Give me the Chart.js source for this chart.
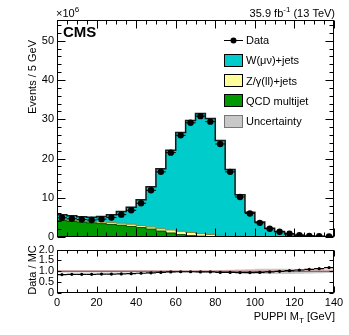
<!DOCTYPE html>
<html><head><meta charset="utf-8">
<script src="https://cdn.jsdelivr.net/npm/chart.js@4.4.1/dist/chart.umd.min.js"></script>
<style>
html,body{margin:0;padding:0;background:#fff;}
#wrap{position:relative;width:349px;height:335px;overflow:hidden;}
#c1{position:absolute;left:0;top:0;}
#c2{position:absolute;left:0;top:240px;}
</style></head><body>
<div id="wrap">
<canvas id="c1" width="349" height="250"></canvas>
<canvas id="c2" width="349" height="95"></canvas>
</div>
<script>
// ---- data (values in units of 10^6 events / 5 GeV) ----
const xMin = 0, xMax = 140, binWidth = 5;
const dataEv = [4.9, 4.65, 4.45, 4.35, 4.55, 4.95, 5.7, 6.8, 8.6, 11.9, 16.6, 21.5, 25.9, 29.1, 30.8, 29.4, 23.7, 16.6, 10.2, 6.0, 3.6, 2.1, 1.35, 0.82, 0.48, 0.27, 0.19, 0.14];
const wjets  = [1.3, 1.15, 1.05, 1.1, 1.45, 2.05, 3.0, 4.35, 6.6, 10.25, 15.3, 20.3, 25.15, 28.55, 30.65, 29.6, 24.2, 16.9, 10.6, 6.2, 3.75, 2.2, 1.4, 0.8, 0.45, 0.25, 0.17, 0.12];
const zjets  = [0.2, 0.25, 0.3, 0.35, 0.4, 0.45, 0.5, 0.55, 0.5, 0.55, 0.6, 0.8, 0.85, 0.8, 0.65, 0.5, 0.35, 0.25, 0.15, 0.08, 0.04, 0.02, 0.01, 0.01, 0, 0, 0, 0];
const qcd    = [4.2, 4.0, 3.8, 3.6, 3.4, 3.2, 3.0, 2.7, 2.4, 2.0, 1.5, 1.0, 0.6, 0.35, 0.2, 0.12, 0.07, 0.04, 0.02, 0.01, 0.01, 0, 0, 0, 0, 0, 0, 0];
const ratio  = [0.85, 0.86, 0.86, 0.86, 0.87, 0.87, 0.88, 0.89, 0.91, 0.93, 0.95, 0.97, 0.98, 0.98, 0.97, 0.97, 0.95, 0.95, 0.94, 0.94, 0.95, 0.97, 1.0, 1.03, 1.06, 1.09, 1.12, 1.17];
const ratioUnc = [0.06, 0.06, 0.06, 0.06, 0.06, 0.06, 0.06, 0.06, 0.06, 0.06, 0.05, 0.05, 0.05, 0.05, 0.05, 0.05, 0.06, 0.07, 0.08, 0.1, 0.12, 0.12, 0.12, 0.12, 0.11, 0.1, 0.09, 0.08];
const xTickVals = [0, 20, 40, 60, 80, 100, 120, 140];
const yTickValsMain = [0, 10, 20, 30, 40, 50];
const yTickValsRatio = [0, 0.5, 1, 1.5, 2];
const legendLabels = ['Data', 'W(\u03BC\u03BD)+jets', 'Z/\u03B3(ll)+jets', 'QCD multijet', 'Uncertainty'];

// ---- styling ----
const FONT = '"Liberation Sans", Arial, Helvetica, sans-serif';
const CYAN = 'rgb(0,204,204)', YELLOW = 'rgb(255,255,153)', GREEN = 'rgb(0,153,0)', GREY = 'rgb(200,200,200)';
Chart.defaults.font.family = FONT;
Chart.defaults.font.size = 11;
Chart.defaults.color = '#000';
Chart.defaults.animation = false;

const centers = dataEv.map((_, i) => xMin + binWidth * (i + 0.5));
const lowEdges = dataEv.map((_, i) => xMin + binWidth * i);
const pts = vals => vals.map((v, i) => ({x: centers[i], y: v}));
const stepPts = vals => { const p = vals.map((v, i) => ({x: lowEdges[i], y: v})); p.push({x: xMin + binWidth * vals.length, y: vals[vals.length - 1]}); return p; };
const total = wjets.map((w, i) => w + zjets[i] + qcd[i]);
const qz = qcd.map((q, i) => q + zjets[i]);

const frameTicks = {
  id: 'frameTicks',
  afterDatasetsDraw(chart, args, o) {
    const {ctx, chartArea: a, scales: {x, y}} = chart;
    ctx.save();
    ctx.strokeStyle = '#000'; ctx.lineWidth = 1;
    const L = Math.round(a.left) + 0.5, R = Math.round(a.right) - 0.5, T = Math.round(a.top) + 0.5, B = Math.round(a.bottom) - 0.5;
    ctx.beginPath();
    const isMaj = (v, m) => Math.abs(v / m - Math.round(v / m)) < 1e-6;
    for (let v = x.min; v <= x.max + 1e-9; v += o.xMinor) {
      const len = isMaj(v, o.xMajor) ? o.xMajLen : o.xMinLen;
      const p = Math.round(x.getPixelForValue(v)) + 0.5;
      ctx.moveTo(p, B); ctx.lineTo(p, B - len);
      ctx.moveTo(p, T); ctx.lineTo(p, T + len);
    }
    for (let v = y.min; v <= y.max + 1e-9; v += o.yMinor) {
      const len = isMaj(v, o.yMajor) ? o.yMajLen : o.yMinLen;
      const p = Math.round(y.getPixelForValue(v)) + 0.5;
      ctx.moveTo(L, p); ctx.lineTo(L + len, p);
      ctx.moveTo(R, p); ctx.lineTo(R - len, p);
    }
    ctx.stroke();
    ctx.strokeRect(L, T, R - L, B - T);
    ctx.restore();
  }
};

const mainText = {
  id: 'mainText',
  afterDraw(chart) {
    const ctx = chart.ctx;
    ctx.save();
    ctx.fillStyle = '#000';
    ctx.textBaseline = 'alphabetic';
    // x10^6
    ctx.font = '11px ' + FONT; ctx.textAlign = 'left';
    ctx.fillText('\u00D710', 56, 17);
    let w = ctx.measureText('\u00D710').width;
    ctx.font = '8px ' + FONT; ctx.fillText('6', 56 + w, 12);
    // CMS
    ctx.font = 'bold 15px ' + FONT; ctx.fillText('CMS', 63, 37);
    // lumi
    ctx.font = '11px ' + FONT;
    const s1 = '35.9 fb', s3 = ' (13 TeV)';
    const w1 = ctx.measureText(s1).width, w3 = ctx.measureText(s3).width;
    ctx.font = '8px ' + FONT; const w2 = ctx.measureText('-1').width;
    let x0 = 335 - w1 - w2 - w3;
    ctx.font = '11px ' + FONT; ctx.fillText(s1, x0, 16.5);
    ctx.font = '8px ' + FONT; ctx.fillText('-1', x0 + w1, 12);
    ctx.font = '11px ' + FONT; ctx.fillText(s3, x0 + w1 + w2, 16.5);
    // y title
    ctx.save();
    ctx.translate(36, 40); ctx.rotate(-Math.PI / 2);
    ctx.textAlign = 'right'; ctx.font = '11px ' + FONT;
    ctx.fillText('Events / 5 GeV', 0, 0);
    ctx.restore();
    // legend
    const lx0 = 224, bw = 19, bh = 13, tx = 246;
    const rowY = [40, 60, 80.5, 100.5, 121];
    const fills = [null, CYAN, YELLOW, GREEN, GREY];
    ctx.lineWidth = 1; ctx.strokeStyle = '#000';
    ctx.beginPath(); ctx.moveTo(lx0, rowY[0] + 0.5); ctx.lineTo(lx0 + bw, rowY[0] + 0.5); ctx.stroke();
    ctx.beginPath(); ctx.arc(lx0 + bw / 2, rowY[0] + 0.5, 3, 0, 2 * Math.PI); ctx.fill();
    for (let i = 1; i < 5; i++) {
      const top = Math.round(rowY[i] - bh / 2);
      ctx.fillStyle = fills[i]; ctx.fillRect(lx0, top, bw, bh);
      ctx.strokeStyle = i === 4 ? '#777' : '#000';
      ctx.strokeRect(lx0 + 0.5, top + 0.5, bw - 1, bh - 1);
    }
    ctx.fillStyle = '#000'; ctx.font = '11px ' + FONT; ctx.textAlign = 'left';
    legendLabels.forEach((t, i) => ctx.fillText(t, tx, rowY[i] + 4));
    ctx.restore();
  }
};

const ratioText = {
  id: 'ratioText',
  afterDraw(chart) {
    const ctx = chart.ctx;
    ctx.save();
    ctx.fillStyle = '#000';
    ctx.font = '11px ' + FONT;
    ctx.save();
    ctx.translate(36, 30); ctx.rotate(-Math.PI / 2);
    ctx.textAlign = 'center'; ctx.fillText('Data / MC', 0, 0);
    ctx.restore();
    const a = 'PUPPI M', b = 'T', c = ' [GeV]';
    const wa = ctx.measureText(a).width, wc = ctx.measureText(c).width;
    ctx.font = '8px ' + FONT; const wb = ctx.measureText(b).width;
    const x0 = 335 - wa - wb - wc, yb = 80;
    ctx.textAlign = 'left';
    ctx.font = '11px ' + FONT; ctx.fillText(a, x0, yb);
    ctx.font = '8px ' + FONT; ctx.fillText(b, x0 + wa, yb + 3);
    ctx.font = '11px ' + FONT; ctx.fillText(c, x0 + wa + wb, yb);
    ctx.restore();
  }
};

const barCommon = {barPercentage: 1, categoryPercentage: 1, borderWidth: 0, stack: 'mc', order: 6};
const stepCommon = {type: 'line', stepped: true, pointRadius: 0, fill: false};

new Chart(document.getElementById('c1'), {
  type: 'bar',
  data: { datasets: [
    {type: 'line', data: pts(dataEv), showLine: false, pointRadius: 3.2, pointBackgroundColor: '#000', pointBorderColor: '#000', pointBorderWidth: 0, order: 0, stack: 'd1'},
    {type: 'line', data: pts(dataEv), showLine: false, pointStyle: 'line', pointRadius: 5, pointBorderColor: '#000', pointBorderWidth: 1, order: 1, stack: 'd2'},
    {...stepCommon, data: stepPts(total), borderColor: '#1a1a1a', borderWidth: 1.5, order: 2, stack: 'o1'},
    {...stepCommon, data: stepPts(qz), borderColor: 'rgba(100,100,30,0.8)', borderWidth: 1, order: 3, stack: 'o2'},
    {...stepCommon, data: stepPts(qcd), borderColor: 'rgba(0,70,0,0.9)', borderWidth: 1, order: 3, stack: 'o3'},
    {...barCommon, label: 'QCD multijet', data: pts(qcd), backgroundColor: GREEN},
    {...barCommon, label: 'Z/\u03B3(ll)+jets', data: pts(zjets), backgroundColor: YELLOW},
    {...barCommon, label: 'W(\u03BC\u03BD)+jets', data: pts(wjets), backgroundColor: CYAN}
  ]},
  options: {
    responsive: false, animation: false,
    layout: {padding: {left: 0, right: 15, top: 20, bottom: 13}},
    plugins: {legend: {display: false}, tooltip: {enabled: false},
      frameTicks: {xMajor: 20, xMinor: 5, yMajor: 10, yMinor: 2, xMajLen: 8, xMinLen: 4, yMajLen: 8, yMinLen: 4}},
    scales: {
      x: {type: 'linear', min: xMin, max: xMax, offset: false, grid: {display: false, drawTicks: false}, border: {display: false}, ticks: {display: false}, afterFit(s) { s.height = 0; }},
      y: {type: 'linear', min: 0, max: 55.3, stacked: true, grid: {display: false, drawTicks: false}, border: {display: false},
          ticks: {padding: 3, color: '#000', font: {size: 11}, autoSkip: false},
          afterBuildTicks(s) { s.ticks = yTickValsMain.map(v => ({value: v})); },
          afterFit(s) { s.width = 57; }}
    }
  },
  plugins: [frameTicks, mainText]
});

new Chart(document.getElementById('c2'), {
  type: 'line',
  data: { datasets: [
    {data: pts(ratio), showLine: false, pointRadius: 1.6, pointBackgroundColor: '#000', pointBorderColor: '#000', pointBorderWidth: 0, order: 0},
    {data: pts(ratio), showLine: false, pointStyle: 'line', pointRadius: 5, pointBorderColor: '#000', pointBorderWidth: 1.2, order: 1},
    {data: [{x: xMin, y: 1}, {x: xMax, y: 1}], borderColor: '#e02828', borderWidth: 1, pointRadius: 0, order: 2},
    {data: stepPts(ratioUnc.map(u => 1 - u)), stepped: true, borderColor: 'rgba(0,0,0,0)', borderWidth: 0, pointRadius: 0, fill: false, order: 5},
    {data: stepPts(ratioUnc.map(u => 1 + u)), stepped: true, borderColor: 'rgba(0,0,0,0)', borderWidth: 0, pointRadius: 0, fill: '-1', backgroundColor: GREY, order: 5}
  ]},
  options: {
    responsive: false, animation: false,
    layout: {padding: {left: 0, right: 15, top: 9, bottom: 0}},
    plugins: {legend: {display: false}, tooltip: {enabled: false},
      frameTicks: {xMajor: 20, xMinor: 5, yMajor: 0.5, yMinor: 0.5, xMajLen: 6, xMinLen: 3, yMajLen: 4, yMinLen: 4}},
    scales: {
      x: {type: 'linear', min: xMin, max: xMax, offset: false, grid: {display: false, drawTicks: false}, border: {display: false},
          ticks: {padding: 3, color: '#000', font: {size: 11}, maxRotation: 0, autoSkip: false},
          afterBuildTicks(s) { s.ticks = xTickVals.map(v => ({value: v})); },
          afterFit(s) { s.height = 42; }},
      y: {type: 'linear', min: 0, max: 2, grid: {display: false, drawTicks: false}, border: {display: false},
          ticks: {padding: 3, color: '#000', font: {size: 11}, autoSkip: false},
          afterBuildTicks(s) { s.ticks = yTickValsRatio.map(v => ({value: v})); },
          afterFit(s) { s.width = 57; }}
    }
  },
  plugins: [frameTicks, ratioText]
});
</script>
</body></html>
